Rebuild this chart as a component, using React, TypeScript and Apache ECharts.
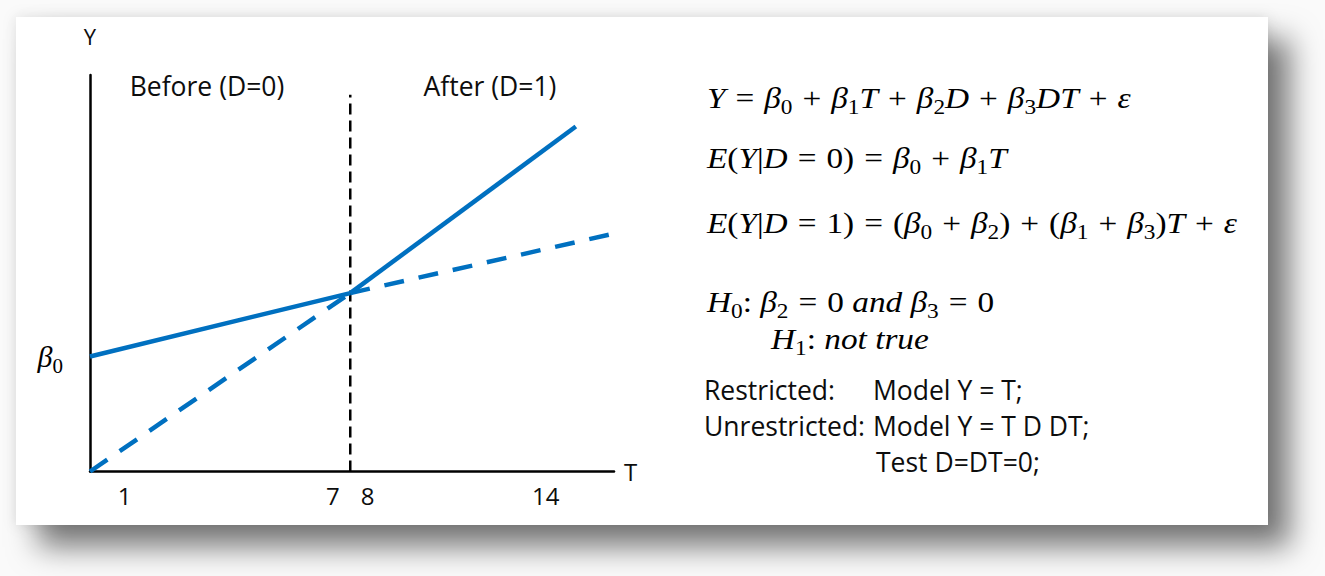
import React, { useEffect, useRef } from "react";
import * as echarts from "echarts";

// Interrupted time series: level and slope before / after the break at T = 7.5
const breakT = 7.5;
const beforeT = [0, 7.5];
const beforeY = [2.9, 4.5];
const afterT = [7.5, 14];
const afterY = [4.5, 8.7];
const trendT = [7.5, 15.1];
const trendY = [4.5, 6.0];
const backT = [0, 7.5];
const backY = [0, 4.5];
const dividerY = [0, 9.5];
const beta0 = 2.9;
const tickLabels = [1, 7, 8, 14];
const phaseLabels = ["Before (D=0)", "After (D=1)"];

// Model text: [style, text] tokens (i = italic symbol, n = upright, o = spaced operator, s = subscript)
type Tok = [string, string];
const eqModel: Tok[] = [
  ["i", "Y"], ["o", "="], ["i", "β"], ["s", "0"], ["o", "+"], ["i", "β"], ["s", "1"], ["i", "T"],
  ["o", "+"], ["i", "β"], ["s", "2"], ["i", "D"], ["o", "+"], ["i", "β"], ["s", "3"], ["i", "DT"],
  ["o", "+"], ["i", "ε"],
];
const eqBefore: Tok[] = [
  ["i", "E"], ["n", "("], ["i", "Y"], ["n", "|"], ["i", "D"], ["o", "="], ["n", "0)"], ["o", "="],
  ["i", "β"], ["s", "0"], ["o", "+"], ["i", "β"], ["s", "1"], ["i", "T"],
];
const eqAfter: Tok[] = [
  ["i", "E"], ["n", "("], ["i", "Y"], ["n", "|"], ["i", "D"], ["o", "="], ["n", "1)"], ["o", "="],
  ["n", "("], ["i", "β"], ["s", "0"], ["o", "+"], ["i", "β"], ["s", "2"], ["n", ")"], ["o", "+"],
  ["n", "("], ["i", "β"], ["s", "1"], ["o", "+"], ["i", "β"], ["s", "3"], ["n", ")"], ["i", "T"],
  ["o", "+"], ["i", "ε"],
];
const eqH0: Tok[] = [
  ["i", "H"], ["s", "0"], ["n", ": "], ["i", "β"], ["s", "2"], ["o", "="], ["n", "0 "], ["i", "and "],
  ["i", "β"], ["s", "3"], ["o", "="], ["n", "0"],
];
const eqH1: Tok[] = [["i", "H"], ["s", "1"], ["n", ": "], ["i", "not true"]];
const testLines = [
  ["Restricted:", "Model Y = T;"],
  ["Unrestricted:", "Model Y = T D DT;"],
  ["", "Test D=DT=0;"],
];

const BLUE = "#0070C0";
const SANS = "Open Sans";
const SERIF = "Liberation Serif";
const INK = "#0d0d0d";

const mainMath = { fontFamily: SERIF, fontSize: 30, lineHeight: 32, fill: "#000", color: "#000" };
const subMath = { fontFamily: SERIF, fontSize: 21, lineHeight: 21, padding: [18, 0, 0, 0], fill: "#000", color: "#000" };
const mathRich = {
  i: { ...mainMath, fontStyle: "italic" },
  n: { ...mainMath },
  o: { ...mainMath, padding: [0, 9, 0, 9] },
  s: subMath,
};
// math glyphs are set a little wider than the serif face draws them
const MATH_STRETCH = 1.11;

const zip = (xs: number[], ys: number[]) => xs.map((x, k) => [x, ys[k]]);
const richString = (toks: Tok[]) => toks.map(([k, t]) => `{${k}|${t}}`).join("");

function mathText(toks: Tok[], x: number, y: number) {
  return {
    type: "text",
    x,
    y,
    scaleX: MATH_STRETCH,
    z: 10,
    silent: true,
    style: { text: richString(toks), rich: mathRich, align: "left", verticalAlign: "middle" },
  };
}

function sansText(text: string, x: number, y: number, align = "left") {
  return {
    type: "text",
    x,
    y,
    z: 10,
    silent: true,
    style: { text, fontFamily: SANS, fontSize: 26.5, fill: INK, align, verticalAlign: "middle" },
  };
}

export default function App() {
  const ref = useRef<HTMLDivElement>(null);

  useEffect(() => {
    if (!ref.current) return;
    const chart = echarts.init(ref.current, undefined, { renderer: "svg" });
    const card = { x: 16, y: 17, width: 1252, height: 508 };

    const lineSeries = (name: string, data: number[][], color: string, width: number, dash?: number[]) => ({
      type: "line",
      name,
      data,
      symbol: "none",
      silent: true,
      lineStyle: { color, width, type: dash ?? "solid", cap: "butt" },
      z: 3,
    });

    const option = {
      animation: false,
      backgroundColor: "#fafafa",
      graphic: [
        { type: "rect", z: -20, silent: true, shape: card, style: { fill: "#fff", shadowBlur: 14, shadowColor: "rgba(0,0,0,0.10)" } },
        {
          type: "rect",
          z: -19,
          silent: true,
          shape: card,
          style: { fill: "#fff", shadowBlur: 30, shadowOffsetX: 22, shadowOffsetY: 22, shadowColor: "rgba(0,0,0,0.52)" },
        },
        sansText(phaseLabels[0], 207, 86, "center"),
        sansText(phaseLabels[1], 490, 86, "center"),
        mathText(eqModel, 707, 98),
        mathText(eqBefore, 707, 158),
        mathText(eqAfter, 707, 223),
        mathText(eqH0, 707, 302),
        mathText(eqH1, 771, 339),
        ...testLines.flatMap(([a, b], k) => {
          const y = 390 + k * 36;
          const out = [sansText(b, k === 2 ? 876 : 873, y)];
          if (a) out.push(sansText(a, 704, y));
          return out;
        }),
      ],
      grid: { left: 90, right: 711, top: 75, bottom: 104.5 },
      xAxis: {
        type: "value",
        min: 0,
        max: 15.1,
        axisLine: { onZero: false, lineStyle: { color: "#000", width: 2.5 } },
        axisTick: { show: false },
        splitLine: { show: false },
        axisLabel: {
          customValues: tickLabels,
          formatter: (v: number) => (v === tickLabels[tickLabels.length - 1] ? `{l|${v}}` : `${v}`),
          color: INK,
          fontFamily: SANS,
          fontSize: 24,
          margin: 12,
          rich: { l: { fontFamily: SANS, fontSize: 24, color: INK, padding: [0, 60, 0, 0] } },
        },
        name: "T",
        nameLocation: "end",
        nameGap: 10,
        nameTextStyle: { color: INK, fontFamily: SANS, fontSize: 24, verticalAlign: "middle" },
      },
      yAxis: {
        type: "value",
        min: 0,
        max: 10,
        axisLine: { onZero: false, lineStyle: { color: "#000", width: 2.5 } },
        axisTick: { show: false },
        splitLine: { show: false },
        axisLabel: {
          customValues: [beta0],
          formatter: () => "{b|β}{s|0}",
          margin: 27,
          rich: {
            b: { ...mainMath, fontStyle: "italic" },
            s: subMath,
          },
        },
        name: "Y",
        nameLocation: "end",
        nameGap: 28,
        nameTextStyle: { color: INK, fontFamily: SANS, fontSize: 22, align: "center" },
      },
      series: [
        lineSeries("divider", zip([breakT, breakT], dividerY), "#000", 2.5, [11, 6]),
        lineSeries("before", zip(beforeT, beforeY), BLUE, 4.5),
        lineSeries("after", zip(afterT, afterY), BLUE, 4.5),
        lineSeries("trend", zip(trendT, trendY), BLUE, 4.5, [20, 15]),
        lineSeries("backcast", zip(backT, backY), BLUE, 4.5, [21, 15]),
      ],
    };

    chart.setOption(option as any);
    return () => chart.dispose();
  }, []);

  return <div ref={ref} style={{ position: "absolute", left: 0, top: 0, width: 1325, height: 576 }} />;
}
